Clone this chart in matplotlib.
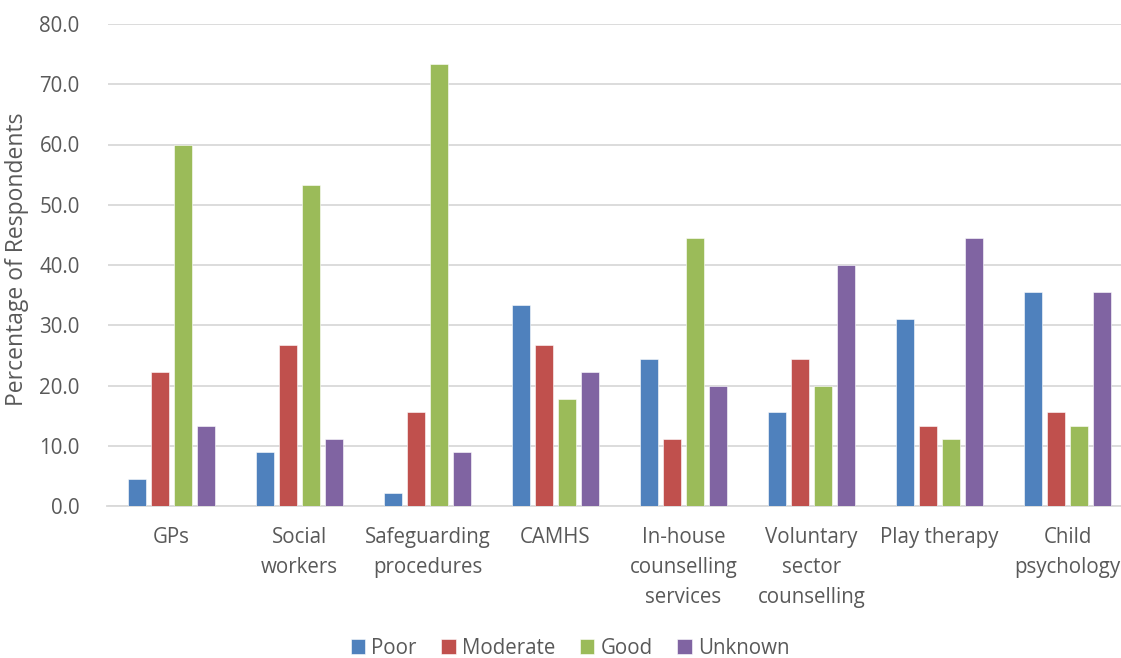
import matplotlib.pyplot as plt
import numpy as np

plt.rcParams["font.family"] = ["Open Sans", "DejaVu Sans"]

categories = ["GPs", "Social\nworkers", "Safeguarding\nprocedures", "CAMHS",
              "In-house\ncounselling\nservices", "Voluntary\nsector\ncounselling",
              "Play therapy", "Child\npsychology"]
poor = [4.4, 8.9, 2.2, 33.3, 24.4, 15.6, 31.1, 35.6]
moderate = [22.2, 26.7, 15.6, 26.7, 11.1, 24.4, 13.3, 15.6]
good = [60.0, 53.3, 73.3, 17.8, 44.4, 20.0, 11.1, 13.3]
unknown = [13.3, 11.1, 8.9, 22.2, 20.0, 40.0, 44.4, 35.6]

series = [("Poor", poor, "#4F81BD"), ("Moderate", moderate, "#C0504D"),
          ("Good", good, "#9BBB59"), ("Unknown", unknown, "#8064A2")]

text_color = "#595959"
fs = 14.8
fig = plt.figure(figsize=(11.21, 6.58), dpi=100)
ax = fig.add_axes([107.5 / 1121, 1 - 506 / 658, 1024 / 1121, 482 / 658])

x = np.arange(len(categories))
step = 0.18
for i, (name, vals, col) in enumerate(series):
    ax.bar(x + (i - 1.5) * step, vals, width=0.14, color=col, label=name,
           zorder=3, edgecolor="white", linewidth=0.4)

ax.set_xlim(-0.5, len(categories) - 0.5)
ax.set_ylim(0, 80)
ax.set_yticks(np.arange(0, 81, 10))
ax.set_yticklabels([f"{v:.1f}" for v in np.arange(0, 81, 10)], fontsize=fs, color=text_color)
ax.set_xticks(x)
ax.set_xticklabels(categories, fontsize=fs, color=text_color, linespacing=1.57, va="top")
ax.tick_params(axis="both", length=0)
ax.tick_params(axis="x", pad=15)
ax.tick_params(axis="y", pad=20)
ax.grid(axis="y", color="#D9D9D9", linewidth=1.3, zorder=0)
for s in ["top", "right", "left"]:
    ax.spines[s].set_visible(False)
ax.spines["bottom"].set_color("#D9D9D9")
ax.spines["bottom"].set_linewidth(1.3)
ax.set_ylabel("Percentage of Respondents", fontsize=16.5, color=text_color, va="center")
ax.yaxis.set_label_coords(-0.0884, 0.512)

fig.legend(loc="center", bbox_to_anchor=(570 / 1121, 1 - 648 / 658), ncol=4, frameon=False,
           fontsize=fs, labelcolor=text_color, handlelength=0.7, handleheight=0.7,
           handletextpad=0.3, columnspacing=1.2)

fig.savefig("out.png", dpi=100)
